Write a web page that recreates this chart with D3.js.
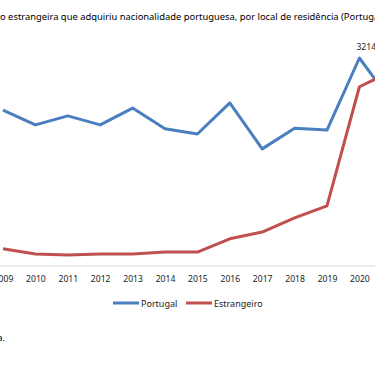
<!DOCTYPE html>
<html>
<head>
<meta charset="utf-8">
<script src="https://cdn.jsdelivr.net/npm/d3@7"></script>
<style>
  body { margin: 0; background: #fff; }
  svg { display: block; font-family: "Noto Sans", "Open Sans", sans-serif; }
</style>
</head>
<body>
<svg id="chart" width="375" height="366"></svg>
<script>
const years = [2009, 2010, 2011, 2012, 2013, 2014, 2015, 2016, 2017, 2018, 2019, 2020, 2021];
const portugal = [2410, 2180, 2320, 2180, 2440, 2120, 2040, 2520, 1810, 2130, 2100, 3214, 2530];
const estrangeiro = [265, 185, 170, 185, 185, 215, 215, 420, 525, 745, 930, 2770, 3010];
const seriesNames = ["Portugal", "Estrangeiro"];
const title = "População estrangeira que adquiriu nacionalidade portuguesa, por local de residência (Portugal e Estrangeiro)";
const titlePrefix = "Populaçã";

const BLUE = "#4a7ebf";
const RED = "#c0504d";

const svg = d3.select("#chart");

// plot is cropped: 2009 sits near the left edge, 2021 off to the right
const x = d3.scalePoint().domain(years).range([3, 3 + 32.4 * (years.length - 1)]);
const y = d3.scaleLinear().domain([0, 3214]).range([266, 58]);

// title (partly outside the frame)
const t = svg.append("text")
  .attr("y", 20)
  .style("font-size", "9.4px")
  .style("fill", "#000")
  .text(title);
const probe = svg.append("text").style("font-size", "9.4px").text(titlePrefix);
const shift = probe.node().getComputedTextLength();
probe.remove();
t.attr("x", -shift);

// x axis
const xAxis = svg.append("g")
  .attr("transform", "translate(0,266)")
  .call(d3.axisBottom(x).tickSize(0).tickPadding(10).tickFormat(d3.format("d")));
xAxis.select(".domain").remove();
xAxis.selectAll("text").style("font-size", "8.6px").style("fill", "#222").style("font-family", "Noto Sans");
svg.append("line")
  .attr("x1", 0).attr("x2", 375)
  .attr("y1", 266).attr("y2", 266)
  .attr("stroke", "#d9d9d9").attr("stroke-width", 1);

const line = d3.line().x((d, i) => x(years[i])).y(d => y(d));

svg.append("path").datum(portugal)
  .attr("d", line)
  .attr("fill", "none").attr("stroke", BLUE).attr("stroke-width", 3)
  .attr("stroke-linejoin", "round");
svg.append("path").datum(estrangeiro)
  .attr("d", line)
  .attr("fill", "none").attr("stroke", RED).attr("stroke-width", 3)
  .attr("stroke-linejoin", "round");

// data label on the 2020 peak
svg.append("text")
  .attr("x", x(2020) - 3)
  .attr("y", y(3214) - 8)
  .style("font-size", "8.6px")
  .style("fill", "#222")
  .text(d3.format("d")(portugal[years.indexOf(2020)]));

// legend
const legend = svg.append("g").attr("transform", "translate(113,303)");
const legendX = [0, 73];
seriesNames.forEach((name, i) => {
  const g = legend.append("g").attr("transform", `translate(${legendX[i]},0)`);
  g.append("line").attr("x1", 0).attr("x2", 26).attr("y1", 0).attr("y2", 0)
    .attr("stroke", i === 0 ? BLUE : RED).attr("stroke-width", 3);
  g.append("text").attr("x", 28).attr("y", 3.5)
    .style("font-size", "9px").style("fill", "#222").text(name);
});

// source note, mostly cut off on the left
svg.append("text")
  .attr("x", 5).attr("y", 341)
  .attr("text-anchor", "end")
  .style("font-size", "9px")
  .style("fill", "#000")
  .text("Fonte: INE, elaboração própria.");
</script>
</body>
</html>
